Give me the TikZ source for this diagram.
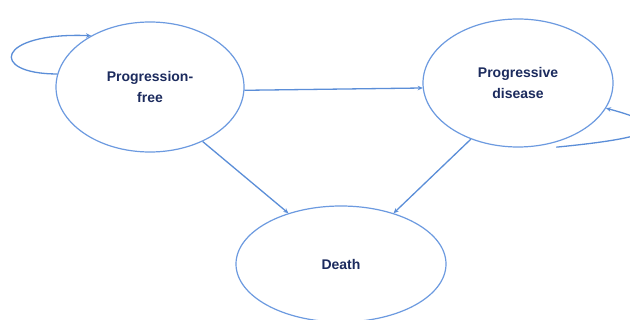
\documentclass[tikz,border=0pt]{standalone}
\usepackage{fontspec}
\setmainfont{Liberation Sans}
\usetikzlibrary{shapes.geometric,arrows.meta}
\definecolor{lineblue}{HTML}{5B8ED8}
\definecolor{ellblue}{HTML}{6C9AE0}
\definecolor{navy}{HTML}{1C2B5E}
\tikzset{
  state/.style={ellipse, draw=ellblue, line width=1.2pt, fill=white, inner sep=0pt,
    font=\fontsize{14}{21}\selectfont\bfseries, text=navy, align=center},
  arr/.style={draw=lineblue, line width=1.3pt, -{Stealth[length=5pt,width=4.5pt]}}
}
\begin{document}
\begin{tikzpicture}[x=1pt,y=-1pt]
\clip (0,0) rectangle (630,320);
\fill[white] (0,0) rectangle (630,320);
\node[state, minimum width=188pt, minimum height=130pt] (pf) at (150,87) {Progression-\\free};
\node[state, minimum width=190pt, minimum height=128pt] (pd) at (518,83) {Progressive\\disease};
\node[state, minimum width=210pt, minimum height=116pt] (death) at (341,264) {Death};
\draw[arr] (pf.-2) -- (pd.183);
\draw[arr] (pf.-46) -- (death.136);
\draw[arr] (pd.230) -- (death.44);
\draw[arr] (pf.172) .. controls (-12,74) and (-4,32) .. (pf.139);
\draw[arr] ([yshift=-5pt]pd.-57) .. controls (650,138) and (680,128) .. (pd.-16);
\end{tikzpicture}
\end{document}
